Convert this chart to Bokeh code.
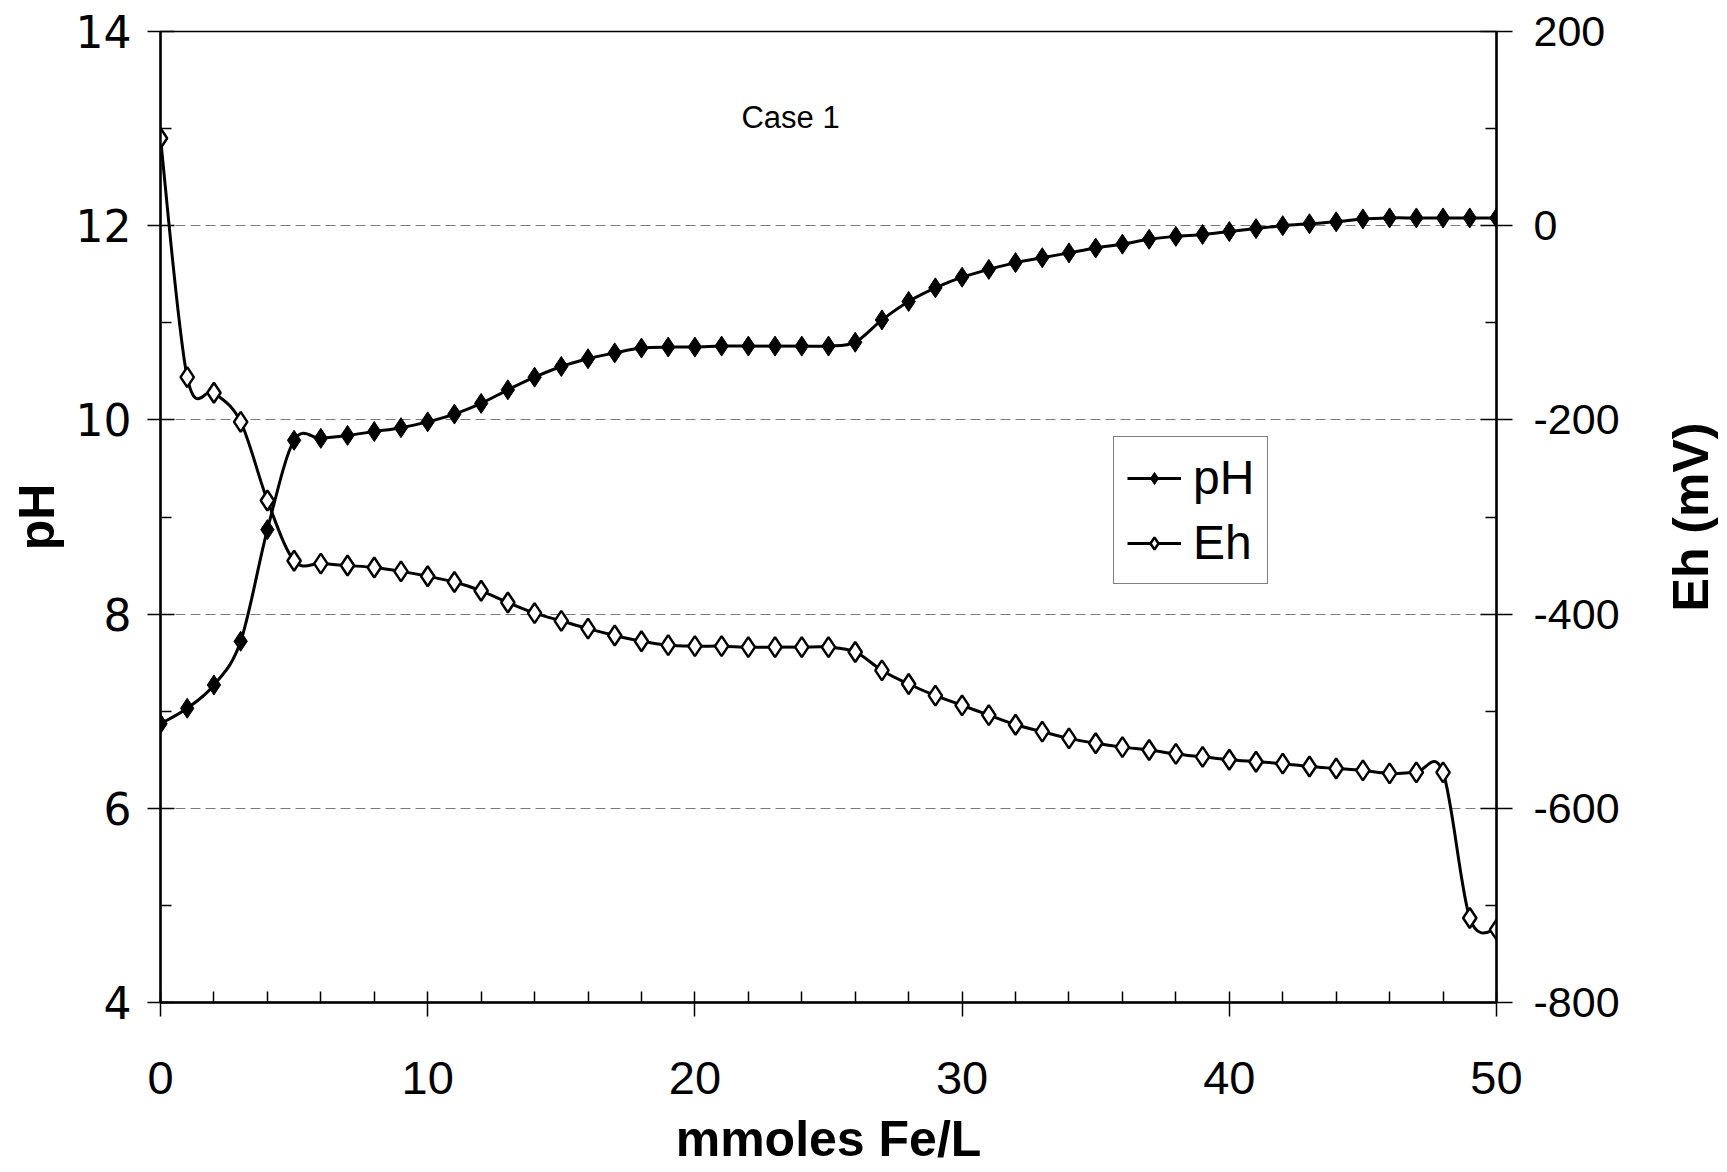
import math
from bokeh.plotting import figure
from bokeh.models import (Range1d, LinearAxis, Legend, LegendItem, Label,
                          FixedTicker, ColumnDataSource, PrintfTickFormatter)
from bokeh.embed import file_html
from bokeh.resources import INLINE

# ---------------- data ----------------
fe_mmol = list(range(51))
ph_vals = [6.87, 7.03, 7.27, 7.72, 8.87, 9.79, 9.81, 9.84, 9.88, 9.92,
           9.98, 10.06, 10.17, 10.31, 10.44, 10.55, 10.63, 10.69, 10.74, 10.75,
           10.75, 10.76, 10.76, 10.76, 10.76, 10.76, 10.80, 11.03, 11.22, 11.36,
           11.47, 11.55, 11.62, 11.67, 11.72, 11.77, 11.81, 11.86, 11.89, 11.91,
           11.94, 11.97, 12.00, 12.02, 12.04, 12.07, 12.08, 12.08, 12.08, 12.08,
           12.08]
eh_vals = [90, -156, -172, -202, -283, -345, -348, -350, -352, -356,
           -361, -367, -376, -388, -399, -407, -415, -422, -428, -432,
           -433, -433, -434, -434, -434, -434, -439, -458, -472, -484,
           -494, -504, -514, -521, -528, -533, -537, -540, -544, -547,
           -550, -552, -554, -557, -559, -561, -564, -563, -563, -713,
           -725]
x_ticks = [0, 10, 20, 30, 40, 50]
x_minor = [v for v in range(2, 50, 2) if v % 10 != 0]
ph_ticks = [4, 6, 8, 10, 12, 14]
ph_minor = [5, 7, 9, 11, 13]
eh_ticks = [-800, -600, -400, -200, 0, 200]
eh_minor = [-700, -500, -300, -100, 100]
series_names = ["pH", "Eh"]
note_text = "Case 1"
eh_axis_title = "Eh (mV)"


def smooth_segments(xs, ys):
    """Cubic Bezier segments (Catmull-Rom style smoothing, like a smoothed line chart)."""
    n = len(xs)
    out = dict(x0=[], y0=[], x1=[], y1=[], cx0=[], cy0=[], cx1=[], cy1=[])
    for i in range(n - 1):
        i0 = max(i - 1, 0)
        i3 = min(i + 2, n - 1)
        out["x0"].append(xs[i]); out["y0"].append(ys[i])
        out["x1"].append(xs[i + 1]); out["y1"].append(ys[i + 1])
        out["cx0"].append(xs[i] + (xs[i + 1] - xs[i0]) / 6.0)
        out["cy0"].append(ys[i] + (ys[i + 1] - ys[i0]) / 6.0)
        out["cx1"].append(xs[i + 1] - (xs[i3] - xs[i]) / 6.0)
        out["cy1"].append(ys[i + 1] - (ys[i3] - ys[i]) / 6.0)
    return out


FONT = "Liberation Sans"
WIDE = "DejaVu Sans"

p = figure(frame_width=1336, frame_height=971,
           x_range=Range1d(0, 50), y_range=Range1d(4, 14),
           output_backend="svg", toolbar_location=None,
           min_border_left=160, min_border_top=31,
           min_border_right=226, min_border_bottom=10,
           background_fill_color="white", border_fill_color="white")
p.extra_y_ranges = {"eh": Range1d(-800, 200)}

p.outline_line_color = "black"
p.outline_line_width = 1.5
p.xgrid.visible = False
p.ygrid.ticker = FixedTicker(ticks=[6, 8, 10, 12])
p.ygrid.grid_line_color = "#7a7a7a"
p.ygrid.grid_line_width = 1
p.ygrid.grid_line_dash = "10 5"

# ---- axes ----
xa = p.xaxis[0]
xa.ticker = FixedTicker(ticks=x_ticks, minor_ticks=x_minor)
xa.axis_label = "mmoles Fe/L"
ya = p.yaxis[0]
ya.ticker = FixedTicker(ticks=ph_ticks, minor_ticks=ph_minor)
ya.axis_label = "pH"

ra = LinearAxis(y_range_name="eh",
                ticker=FixedTicker(ticks=eh_ticks, minor_ticks=eh_minor),
                formatter=PrintfTickFormatter(format="%d"))
p.add_layout(ra, "right")

for ax in (xa, ya, ra):
    ax.axis_line_color = "black"
    ax.axis_line_width = 2.5
    ax.major_tick_line_color = "black"
    ax.minor_tick_line_color = "black"
    ax.major_tick_line_width = 1.5
    ax.minor_tick_line_width = 1.5
    ax.major_label_text_font = FONT
    ax.major_label_text_color = "black"
    ax.axis_label_text_font = FONT
    ax.axis_label_text_font_style = "bold"
    ax.axis_label_text_color = "black"
    ax.axis_label_text_font_size = "50px"

xa.major_tick_in = 11
xa.major_tick_out = 14
xa.minor_tick_in = 11
xa.minor_tick_out = 0
xa.major_label_text_font_size = "47px"
xa.major_label_standoff = 45
xa.axis_label_standoff = 14

ya.major_tick_in = 14
ya.major_tick_out = 13
ya.minor_tick_in = 11
ya.minor_tick_out = 0
ya.major_label_text_font = WIDE
ya.major_label_text_font_size = "44px"
ya.major_label_standoff = 16
ya.axis_label_standoff = 8

ra.major_tick_in = 16
ra.major_tick_out = 16
ra.minor_tick_in = 11
ra.minor_tick_out = 0
ra.major_label_text_font_size = "43px"
ra.major_label_standoff = 21

# right-hand axis title (reads bottom-to-top like the original); placed in the
# right side panel so it is not clipped to the plotting frame
eh_title = Label(x=57.29, y=9.0, text=eh_axis_title, angle=math.pi / 2,
                 text_align="center", text_baseline="middle",
                 text_font=FONT, text_font_style="bold",
                 text_font_size="50px", text_color="black")
p.add_layout(eh_title, "right")

# ---- series ----
ph_seg = ColumnDataSource(smooth_segments(fe_mmol, ph_vals))
eh_seg = ColumnDataSource(smooth_segments(fe_mmol, eh_vals))
ph_line = p.bezier(x0="x0", y0="y0", x1="x1", y1="y1", cx0="cx0", cy0="cy0",
                   cx1="cx1", cy1="cy1", source=ph_seg, line_color="black",
                   line_width=3)
eh_line = p.bezier(x0="x0", y0="y0", x1="x1", y1="y1", cx0="cx0", cy0="cy0",
                   cx1="cx1", cy1="cy1", source=eh_seg, line_color="black",
                   line_width=3, y_range_name="eh")

ph_pts = p.scatter(fe_mmol, ph_vals, marker="diamond", size=20,
                   fill_color="black", line_color="black", line_width=1)
eh_pts = p.scatter(fe_mmol, eh_vals, marker="diamond", size=20,
                   fill_color="white", line_color="black", line_width=2.5,
                   y_range_name="eh")

legend = Legend(items=[
    LegendItem(label=series_names[0], renderers=[ph_line, ph_pts]),
    LegendItem(label=series_names[1], renderers=[eh_line, eh_pts]),
], location=(953, 418))
legend.border_line_color = "black"
legend.border_line_width = 1.5
legend.background_fill_color = "white"
legend.background_fill_alpha = 1.0
legend.label_text_font = FONT
legend.label_text_font_size = "48px"
legend.label_text_color = "black"
legend.glyph_width = 54
legend.glyph_height = 30
legend.label_standoff = 12
legend.padding = 13
legend.spacing = 10
legend.margin = 0
p.add_layout(legend, "center")

p.add_layout(Label(x=23.58, y=13.11, text=note_text, text_align="center",
                   text_baseline="middle", text_font=FONT,
                   text_font_size="31px", text_color="black"))

open("out.html", "w").write(file_html(p, INLINE))
